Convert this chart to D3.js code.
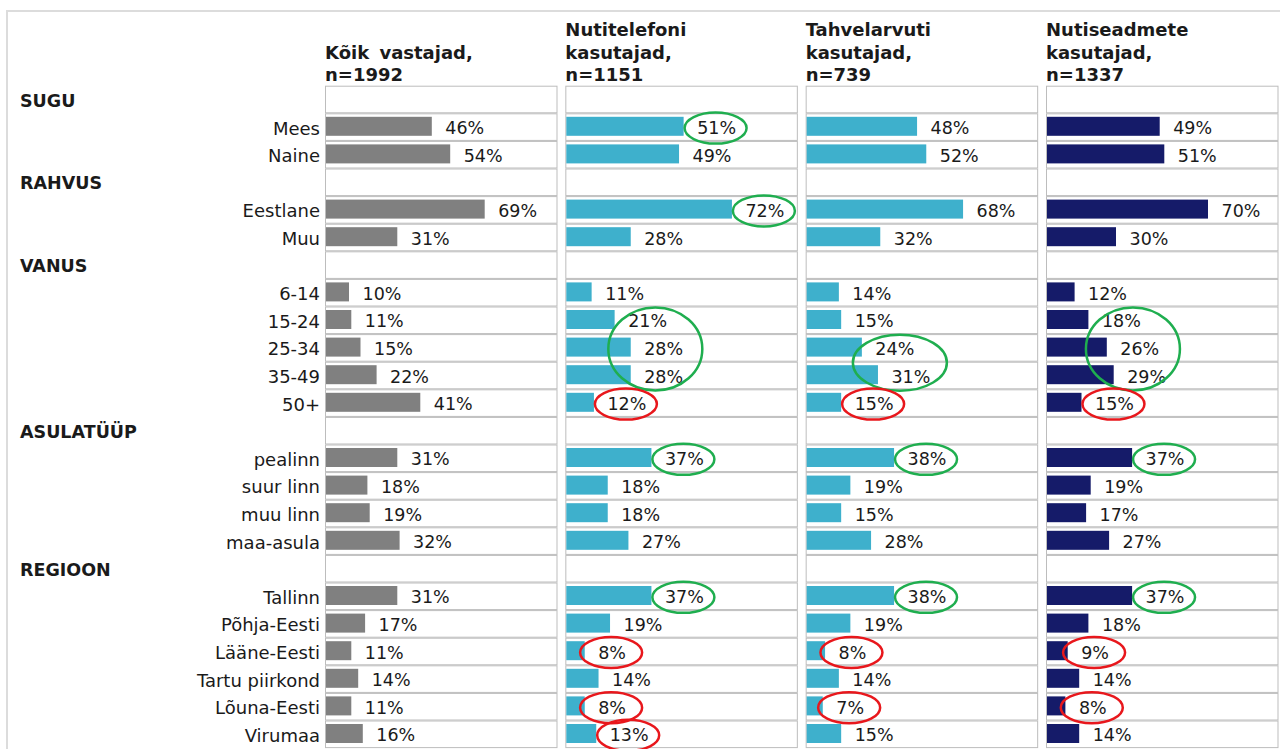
<!DOCTYPE html>
<html>
<head>
<meta charset="utf-8">
<title>Nutiseadmete kasutajad</title>
<script src="https://d3js.org/d3.v7.min.js"></script>
<style>
  body { margin: 0; background: #fff; }
  text { font-family: "DejaVu Sans", Verdana, sans-serif; fill: #1a1a1a; font-size: 17.5px; }
  .bold { font-weight: bold; }
  .rowlabel { font-size: 18px; }
  .rowlabel.bold { font-size: 17.5px; }
  .title { font-size: 18px; }
</style>
</head>
<body>
<svg id="chart" width="1280" height="749"></svg>
<script>
// groups and their categories, top to bottom
var groups = ["SUGU", "RAHVUS", "VANUS", "ASULATÜÜP", "REGIOON"];
var categories = [
    ["Mees", "Naine"],
    ["Eestlane", "Muu"],
    ["6-14", "15-24", "25-34", "35-49", "50+"],
    ["pealinn", "suur linn", "muu linn", "maa-asula"],
    ["Tallinn", "Põhja-Eesti", "Lääne-Eesti", "Tartu piirkond", "Lõuna-Eesti", "Virumaa"]
];

// values (%) in the category order above
var koikVastajad = [46, 54, 69, 31, 10, 11, 15, 22, 41, 31, 18, 19, 32, 31, 17, 11, 14, 11, 16];
var nutitelefon  = [51, 49, 72, 28, 11, 21, 28, 28, 12, 37, 18, 18, 27, 37, 19, 8, 14, 8, 13];
var tahvelarvuti = [48, 52, 68, 32, 14, 15, 24, 31, 15, 38, 19, 15, 28, 38, 19, 8, 14, 7, 15];
var nutiseade    = [49, 51, 70, 30, 12, 18, 26, 29, 15, 37, 19, 17, 27, 37, 18, 9, 14, 8, 14];

var panelTitles = [
    ["Kõik vastajad,", "n=1992"],
    ["Nutitelefoni", "kasutajad,", "n=1151"],
    ["Tahvelarvuti", "kasutajad,", "n=739"],
    ["Nutiseadmete", "kasutajad,", "n=1337"]
];
var panelValues = [koikVastajad, nutitelefon, tahvelarvuti, nutiseade];
var panelColors = ["#808080", "#3eb0cc", "#3eb0cc", "#151b69"];

// highlighted labels: panel, first and last category (by name), colour
var highlights = [
    {panel: 1, from: "Mees", to: "Mees", c: "green"},
    {panel: 1, from: "Eestlane", to: "Eestlane", c: "green"},
    {panel: 1, from: "15-24", to: "35-49", c: "green"},
    {panel: 1, from: "50+", to: "50+", c: "red"},
    {panel: 1, from: "pealinn", to: "pealinn", c: "green"},
    {panel: 1, from: "Tallinn", to: "Tallinn", c: "green"},
    {panel: 1, from: "Lääne-Eesti", to: "Lääne-Eesti", c: "red"},
    {panel: 1, from: "Lõuna-Eesti", to: "Lõuna-Eesti", c: "red"},
    {panel: 1, from: "Virumaa", to: "Virumaa", c: "red"},
    {panel: 2, from: "25-34", to: "35-49", c: "green"},
    {panel: 2, from: "50+", to: "50+", c: "red"},
    {panel: 2, from: "pealinn", to: "pealinn", c: "green"},
    {panel: 2, from: "Tallinn", to: "Tallinn", c: "green"},
    {panel: 2, from: "Lääne-Eesti", to: "Lääne-Eesti", c: "red"},
    {panel: 2, from: "Lõuna-Eesti", to: "Lõuna-Eesti", c: "red"},
    {panel: 3, from: "15-24", to: "35-49", c: "green"},
    {panel: 3, from: "50+", to: "50+", c: "red"},
    {panel: 3, from: "pealinn", to: "pealinn", c: "green"},
    {panel: 3, from: "Tallinn", to: "Tallinn", c: "green"},
    {panel: 3, from: "Lääne-Eesti", to: "Lääne-Eesti", c: "red"},
    {panel: 3, from: "Lõuna-Eesti", to: "Lõuna-Eesti", c: "red"}
];
var ringColors = {green: "#1fae4f", red: "#e8171c"};

// flatten into rows
var rows = [];
var k = 0;
groups.forEach(function(g, gi) {
    rows.push({name: g, group: true});
    categories[gi].forEach(function(c) {
        rows.push({name: c, group: false, idx: k++});
    });
});

var svg = d3.select("#chart");

// outer frame
svg.append("rect")
    .attr("x", 7).attr("y", 11)
    .attr("width", 1400).attr("height", 900)
    .attr("fill", "none").attr("stroke", "#dcdcdc").attr("stroke-width", 2);

var yScale = d3.scaleBand()
    .domain(d3.range(rows.length))
    .range([85.7, 85.7 + 27.6 * rows.length]);

var panelX = d3.scaleLinear().domain([0, 3]).range([325, 1046]);
var panelW = 232.5;
var xScale = d3.scaleLinear().domain([0, 100]).range([0, 230]);

// row labels
svg.selectAll("text.rowlabel")
    .data(rows)
    .enter()
    .append("text")
    .attr("class", function(d) { return d.group ? "rowlabel bold" : "rowlabel"; })
    .attr("x", function(d) { return d.group ? 20 : 320; })
    .attr("y", function(d, i) { return yScale(i) + yScale.bandwidth() / 2 + 1; })
    .attr("dominant-baseline", "central")
    .attr("text-anchor", function(d) { return d.group ? "start" : "end"; })
    .text(function(d) { return d.name; });

var labelNodes = [];

panelValues.forEach(function(values, p) {
    var px = panelX(p);
    var g = svg.append("g");

    // titles
    var lines = panelTitles[p];
    lines.forEach(function(line, j) {
        g.append("text")
            .attr("class", "bold title")
            .attr("x", px)
            .attr("y", 81 - (lines.length - 1 - j) * 22.5)
            .attr("word-spacing", 4)
            .text(line);
    });

    // cells
    g.selectAll("rect.cell")
        .data(rows)
        .enter()
        .append("rect")
        .attr("class", "cell")
        .attr("x", px + 0.5)
        .attr("y", function(d, i) { return yScale(i) + 0.5; })
        .attr("width", panelW - 1)
        .attr("height", yScale.bandwidth() - 1)
        .attr("fill", "#fff")
        .attr("stroke", "#bdbdbd")
        .attr("stroke-width", 1);

    var items = rows.map(function(d, i) { return {row: i, name: d.name, v: d.group ? null : values[d.idx]}; })
        .filter(function(d) { return d.v !== null; });

    g.selectAll("rect.bar")
        .data(items)
        .enter()
        .append("rect")
        .attr("class", "bar")
        .attr("x", px + 1)
        .attr("y", function(d) { return yScale(d.row) + 3.5; })
        .attr("width", function(d) { return xScale(d.v); })
        .attr("height", 19)
        .attr("fill", panelColors[p]);

    var labels = g.selectAll("text.val")
        .data(items)
        .enter()
        .append("text")
        .attr("class", "val")
        .attr("x", function(d) { return px + 1 + xScale(d.v) + 13.5; })
        .attr("y", function(d) { return yScale(d.row) + yScale.bandwidth() / 2 + 1; })
        .attr("dominant-baseline", "central")
        .text(function(d) { return d.v + "%"; });

    var byName = {};
    labels.each(function(d) { byName[d.name] = this; });
    labelNodes.push(byName);
});

// rings around highlighted labels
highlights.forEach(function(h) {
    var r0 = rows.findIndex(function(r) { return r.name === h.from; });
    var r1 = rows.findIndex(function(r) { return r.name === h.to; });
    var n = r1 - r0 + 1;
    var cx = 0;
    for (var i = r0; i <= r1; i++) {
        var b = labelNodes[h.panel][rows[i].name].getBBox();
        cx += b.x + b.width / 2;
    }
    cx = cx / n;
    var cy = (yScale(r0) + yScale(r1) + yScale.bandwidth()) / 2 + 1;
    svg.append("ellipse")
        .attr("cx", n === 1 ? cx - 1 : cx - 3)
        .attr("cy", cy)
        .attr("rx", n === 1 ? 31 : 47)
        .attr("ry", n === 1 ? 15.5 : n * 13.5 + 1)
        .attr("fill", "none")
        .attr("stroke", ringColors[h.c])
        .attr("stroke-width", 2.5);
});
</script>
</body>
</html>
